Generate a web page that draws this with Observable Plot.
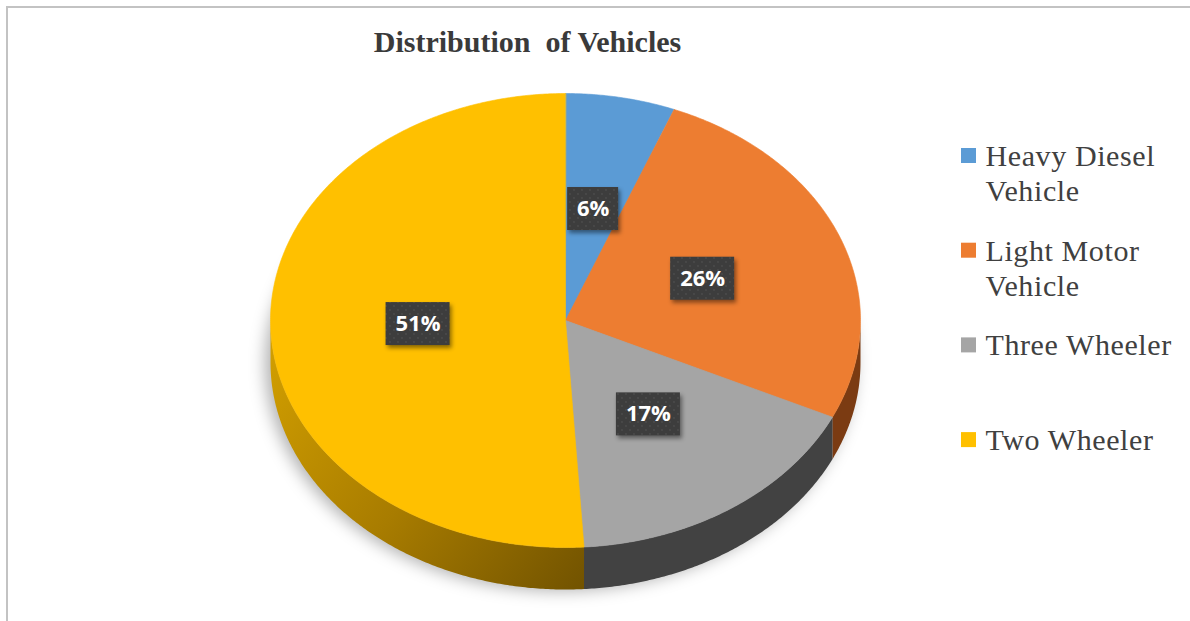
<!DOCTYPE html>
<html><head><meta charset="utf-8">
<script src="https://cdn.jsdelivr.net/npm/d3@7"></script>
<script src="https://cdn.jsdelivr.net/npm/@observablehq/plot@0.6"></script>
<style>body{margin:0;background:#fff}</style>
</head><body><div id="chart"></div>
<script>
// ---- data ----
const title = "Distribution  of Vehicles";
const categories = ["Heavy Diesel Vehicle", "Light Motor Vehicle", "Three Wheeler", "Two Wheeler"];
const legendLabels = ["Heavy Diesel\nVehicle", "Light Motor\nVehicle", "Three Wheeler", "Two Wheeler"];
const shares = [6, 26, 17, 51];
const topColors = ["#5B9BD5", "#ED7D31", "#A5A5A5", "#FFC000"];
const sideColors = ["#2E5F8C", "#7B3B12", "#424242", "url(#sideGold)"];

// ---- layout ----
const W = 1190, H = 621;
const cx = 565, cy = 320, rx = 295, ry = 227, depth = 42;
const total = d3.sum(shares);
let acc = 0;
const slices = shares.map((v, i) => {
  const a0 = acc / total * 360; acc += v; const a1 = acc / total * 360;
  return {i, name: categories[i], value: v, a0, a1, mid: (a0 + a1) / 2};
});
const rad = d => d * Math.PI / 180;
const px = (a, r = 1) => cx + rx * r * Math.sin(rad(a));
const py = (a, r = 1, dz = 0) => cy - ry * r * Math.cos(rad(a)) + dz;
function arc(a0, a1, dz = 0) {
  const n = Math.max(2, Math.ceil((a1 - a0) / 0.5));
  return d3.range(n + 1).map(k => { const a = a0 + (a1 - a0) * k / n; return {x: px(a), y: py(a, 1, dz)}; });
}
const topPolys = slices.map(s => ({s, pts: [{x: cx, y: cy}, ...arc(s.a0, s.a1)]}));
const sidePolys = slices.filter(s => s.a1 > 90 && s.a0 < 270).map(s => {
  const b0 = Math.max(s.a0, 90), b1 = Math.min(s.a1, 270);
  return {s, pts: [...arc(b0, b1), ...arc(b0, b1, depth).reverse()]};
});
const shadowPts = arc(0, 360, depth);

const labels = slices.map(s => {
  const t = s.value + "%";
  const w = 13 * t.length + 25, h = 43;
  const x = px(s.mid, 0.5), y = py(s.mid, 0.5);
  return {t, x, y, x1: x - w / 2, x2: x + w / 2, y1: y - h / 2, y2: y + h / 2};
});

const lgX = 961, lgY0 = 155.5, lgStep = 94.7, sq = 15;
const legend = legendLabels.map((t, i) => {
  const yc = lgY0 + i * lgStep;
  return {t, color: topColors[i], x1: lgX, x2: lgX + sq, y1: yc - sq / 2, y2: yc + sq / 2, tx: lgX + 24, ty: yc - 15};
});

const marks = [
  Plot.ruleY([6.5], {x1: 6, x2: W, stroke: "#c3c3c3", strokeWidth: 2}),
  Plot.ruleX([6.5], {y1: 6, y2: H, stroke: "#c3c3c3", strokeWidth: 2}),
  Plot.line(shadowPts, {x: "x", y: "y", curve: "linear-closed", fill: "#000", fillOpacity: 0.3, stroke: "none", className: "pieshadow"}),
  ...sidePolys.map(p => Plot.line(p.pts, {x: "x", y: "y", curve: "linear-closed", fill: sideColors[p.s.i], stroke: "none"})),
  ...topPolys.map(p => Plot.line(p.pts, {x: "x", y: "y", curve: "linear-closed", fill: topColors[p.s.i], stroke: topColors[p.s.i], strokeWidth: 0.6})),
  Plot.rect(labels, {x1: "x1", x2: "x2", y1: "y1", y2: "y2", fill: "url(#dots)", className: "lblbox"}),
  Plot.text(labels, {x: "x", y: "y", text: "t", fill: "#fff", fontSize: 22, fontWeight: "bold", fontFamily: "'Open Sans', sans-serif"}),
  Plot.rect(legend, {x1: "x1", x2: "x2", y1: "y1", y2: "y2", fill: "color"}),
  Plot.text(legend, {x: "tx", y: "ty", text: "t", textAnchor: "start", lineAnchor: "top", lineHeight: 1.17, fontSize: 30, fill: "#404040", fontFamily: "'Liberation Serif', 'Times New Roman', serif", className: "lgtext"}),
  Plot.text([title], {x: () => 527, y: () => 51, text: d => d, lineAnchor: "bottom", fontSize: 30, fontWeight: "bold", fill: "#3a3a3a", fontFamily: "'Liberation Serif', 'Times New Roman', serif", className: "ttl"})
];

const svg = Plot.plot({
  width: W, height: H,
  margin: 0,
  x: {domain: [0, W], range: [0, W], axis: null},
  y: {domain: [0, H], range: [0, H], axis: null},
  color: {type: "identity"},
  style: {background: "#fff"},
  marks
});

const defs = d3.select(svg).insert("defs", ":first-child");
defs.html(`
  <linearGradient id="sideGold" gradientUnits="userSpaceOnUse" x1="270" y1="330" x2="600" y2="590">
    <stop offset="0" stop-color="#D3A000"/>
    <stop offset="0.5" stop-color="#A87C00"/>
    <stop offset="1" stop-color="#6E5000"/>
  </linearGradient>
  <pattern id="dots" patternUnits="userSpaceOnUse" width="8" height="8">
    <rect width="8" height="8" fill="#3d3d3d"/>
    <circle cx="2" cy="2" r="0.9" fill="#4c4c4c"/>
    <circle cx="6" cy="6" r="0.9" fill="#4c4c4c"/>
  </pattern>
`);
d3.select(svg).selectAll(".pieshadow").style("filter", "blur(8px)").attr("transform", "translate(-5,2)");
d3.select(svg).selectAll(".lblbox").style("filter", "drop-shadow(2px 3px 2px rgba(0,0,0,0.45))");
d3.select(svg).selectAll(".lgtext text").style("letter-spacing", "0.6px");
d3.select(svg).selectAll(".ttl text").style("white-space", "pre");
document.getElementById("chart").appendChild(svg);
</script>
</body></html>
